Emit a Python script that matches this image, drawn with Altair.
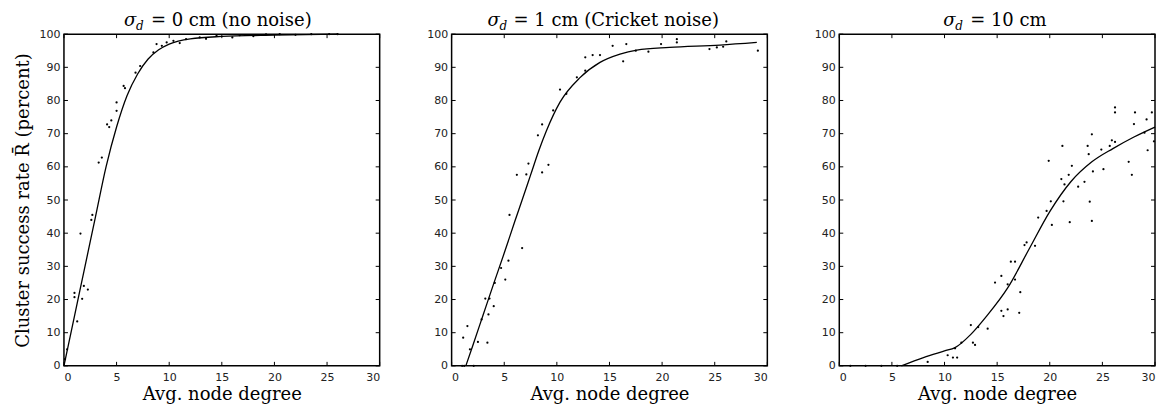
import altair as alt
import pandas as pd

TICK_X = [0, 5, 10, 15, 20, 25, 30]
TICK_Y = [0, 10, 20, 30, 40, 50, 60, 70, 80, 90, 100]

TITLE_REST = ["= 0 cm (no noise)", "= 1 cm (Cricket noise)", "= 10 cm"]
Y_TITLE = "Cluster success rate R\u0304 (percent)"
X_TITLE = "Avg. node degree"

# Panel 1: sigma_d = 0 cm
p1_pt_x = [0.1, 0.3, 1.0, 1.0, 1.26, 1.57, 1.73, 1.89, 2.27, 2.6, 2.7, 3.3, 3.6, 4.1, 4.3, 4.5,
           5.0, 5.0, 5.67, 5.8, 6.8, 7.24, 8.5, 8.8, 9.3, 9.76, 10.4, 11.0, 11.6, 12.9, 13.5,
           14.5, 16.0, 16.7, 18.0, 19.2, 20.5, 22.0, 23.5, 25.2, 26.0]
p1_pt_y = [2, 5, 22, 20.7, 13.4, 39.9, 20.2, 24.1, 23, 44, 45.5, 61.3, 62.8, 72.8, 72, 74,
           76.9, 79.4, 84.4, 83.7, 88.4, 90.4, 94.5, 97, 96.5, 97.5, 98, 97.3, 98.5, 99, 98.6,
           99.5, 99, 99.7, 99.4, 99.9, 100, 99.8, 100, 100, 100]
p1_fit_x = [0, 1, 2, 3, 4, 5, 6, 7, 8, 9, 10, 12, 15, 20, 26]
p1_fit_y = [0, 15, 30, 45, 60, 72, 81.5, 88, 92.5, 95.3, 97, 98.6, 99.3, 99.7, 100]

# Panel 2: sigma_d = 1 cm
p2_pt_x = [1.0, 1.1, 1.2, 1.5, 1.74, 2.1, 2.5, 2.85, 3.2, 3.4, 3.5, 3.6, 4.0, 4.1, 4.7, 5.1,
           5.4, 5.5, 6.2, 6.7, 7.1, 7.3, 8.2, 8.6, 8.6, 9.2, 9.65, 10.3, 10.9, 11.9, 12.7,
           12.7, 13.4, 14.1, 15.3, 16.3, 16.6, 17.5, 18.7, 19.9, 21.4, 21.4, 24.5, 25.2,
           25.8, 26.1, 29.1]
p2_pt_y = [0, 8.5, 0, 12, 5, 0, 7.2, 14, 20.3, 7, 15.5, 20.3, 18, 25, 29.5, 26,
           31.7, 45.5, 57.6, 35.5, 57.7, 61, 69.5, 72.8, 58.3, 60.6, 77, 83.3, 82, 87, 89,
           93, 93.7, 93.7, 96.5, 91.8, 97, 95, 94.7, 97, 98.5, 97.5, 95.5, 96,
           96.2, 97.8, 95]
p2_fit_x = [1.35, 2, 3, 4, 5, 6, 6.7, 7.5, 8.3, 9, 10.3, 12.2, 14.1, 16, 17.6, 20.7, 25.5, 29]
p2_fit_y = [0, 6, 15.4, 24.8, 34, 43.5, 50, 57.5, 65, 70.8, 79.5, 86.9, 91.5, 94, 95.2, 96, 96.7, 97.5]

# Panel 3: sigma_d = 10 cm
p3_pt_x = [1.05, 2.5, 4.0, 5.5, 8.4, 10.3, 10.8, 11.2, 11.0, 11.6, 12.5, 12.7, 12.9, 13.2,
           14.1, 14.8, 15.4, 15.4, 15.6, 16.0, 16.0, 16.3, 16.7, 16.7, 17.1, 17.2, 17.6, 17.8,
           18.6, 18.9, 19.7, 20.2, 20.1, 21.3, 21.9, 23.8, 24.0, 19.9, 21.2, 21.1, 21.4, 22.1,
           21.8, 22.7, 23.3, 23.6, 23.7, 24.0, 24.1, 24.9, 25.1, 25.7, 25.9, 26.2, 26.2, 26.2,
           27.5, 27.8, 28.0, 28.1, 29.0, 29.3, 29.2, 29.7, 29.9]
p3_pt_y = [0, 0, 0, 0, 1.2, 3.2, 2.5, 2.5, 5.3, 7, 12.3, 7, 6.3, 11.7,
           11.2, 25.1, 27.1, 16.6, 15, 17, 24.6, 31.4, 31.4, 26, 16, 22.2, 36.4, 37.2,
           36.2, 44.7, 46.7, 42.5, 49.6, 49.6, 43.3, 49.5, 43.7, 61.8, 66.3, 56.3, 54.7, 60.3,
           57.6, 54, 55.5, 66.3, 63.8, 69.8, 58.6, 65.2, 59.3, 66.3, 68, 67.5, 77.9, 76.4,
           61.5, 57.6, 72.9, 76.4, 70.3, 65, 74.3, 76.4, 67.7]
p3_fit_x = [5.9, 8, 10, 11, 12.5, 14, 16, 18, 20, 22, 24, 26, 28, 30]
p3_fit_y = [0, 2.5, 4.5, 5.5, 9.5, 15, 23.5, 35, 46.5, 55.5, 61.5, 65.5, 69, 72]

W, H = 316, 332
TL = 4  # inner tick length

xs = alt.Scale(domain=[0, 30], nice=False, zero=False)
ys = alt.Scale(domain=[0, 100], nice=False)


def panel(pt_x, pt_y, fit_x, fit_y, rest, sig_x, d_x, rest_x, first):
    pts = pd.DataFrame({"x": pt_x, "y": pt_y})
    fit = pd.DataFrame({"x": fit_x, "y": fit_y})
    xa = alt.Axis(values=TICK_X, title=X_TITLE, labelPadding=6, titlePadding=3)
    if first:
        ya = alt.Axis(values=TICK_Y, title=Y_TITLE, labelPadding=4, titlePadding=6)
    else:
        ya = alt.Axis(values=TICK_Y, title=None, labelPadding=4)
    X = alt.X("x:Q", scale=xs, axis=xa)
    Y = alt.Y("y:Q", scale=ys, axis=ya)
    line = alt.Chart(fit).mark_line(color="black", strokeWidth=1.3, interpolate="monotone").encode(
        x=X, y=Y)
    dots = alt.Chart(pts).mark_circle(color="black", size=5, opacity=1).encode(x=X, y=Y)
    tx = pd.DataFrame({"x": TICK_X})
    ty = pd.DataFrame({"y": TICK_Y})
    tb = alt.Chart(tx).mark_rule(color="black", strokeWidth=1).encode(
        x=X, y=alt.value(H), y2=alt.value(H - TL))
    tt = alt.Chart(tx).mark_rule(color="black", strokeWidth=1).encode(
        x=X, y=alt.value(0), y2=alt.value(TL))
    tlft = alt.Chart(ty).mark_rule(color="black", strokeWidth=1).encode(
        y=Y, x=alt.value(0), x2=alt.value(TL))
    trgt = alt.Chart(ty).mark_rule(color="black", strokeWidth=1).encode(
        y=Y, x=alt.value(W), x2=alt.value(W - TL))
    tdf = pd.DataFrame({"s": ["\u03c3"], "d": ["d"], "r": [rest]})
    t_sig = alt.Chart(tdf).mark_text(font="DejaVu Serif", fontSize=18, fontStyle="italic",
                                     align="left", baseline="alphabetic", color="black").encode(
        x=alt.value(sig_x), y=alt.value(-8), text="s:N")
    t_d = alt.Chart(tdf).mark_text(font="DejaVu Serif", fontSize=12, fontStyle="italic",
                                   align="left", baseline="alphabetic", color="black").encode(
        x=alt.value(d_x), y=alt.value(-4), text="d:N")
    t_r = alt.Chart(tdf).mark_text(font="DejaVu Serif", fontSize=18,
                                   align="left", baseline="alphabetic", color="black").encode(
        x=alt.value(rest_x), y=alt.value(-8), text="r:N")
    return alt.layer(line, dots, tb, tt, tlft, trgt, t_sig, t_d, t_r).properties(width=W, height=H)


c1 = panel(p1_pt_x, p1_pt_y, p1_fit_x, p1_fit_y, TITLE_REST[0], 60, 72, 87, True)
c2 = panel(p2_pt_x, p2_pt_y, p2_fit_x, p2_fit_y, TITLE_REST[1], 36, 48, 62, False)
c3 = panel(p3_pt_x, p3_pt_y, p3_fit_x, p3_fit_y, TITLE_REST[2], 104, 116, 131, False)

chart = alt.hconcat(c1, c2, c3, spacing=44).properties(
    padding={"left": 6, "top": 3, "right": 0, "bottom": 0}
).configure_view(
    stroke="black", strokeWidth=1.5
).configure_axis(
    domain=False, ticks=False, grid=False,
    labelFont="DejaVu Sans", labelFontSize=11, labelColor="#222",
    titleFont="DejaVu Serif", titleFontSize=18, titleFontWeight="normal", titleColor="black",
)

chart.save("out.html", embed_options={"renderer": "svg", "actions": False})
